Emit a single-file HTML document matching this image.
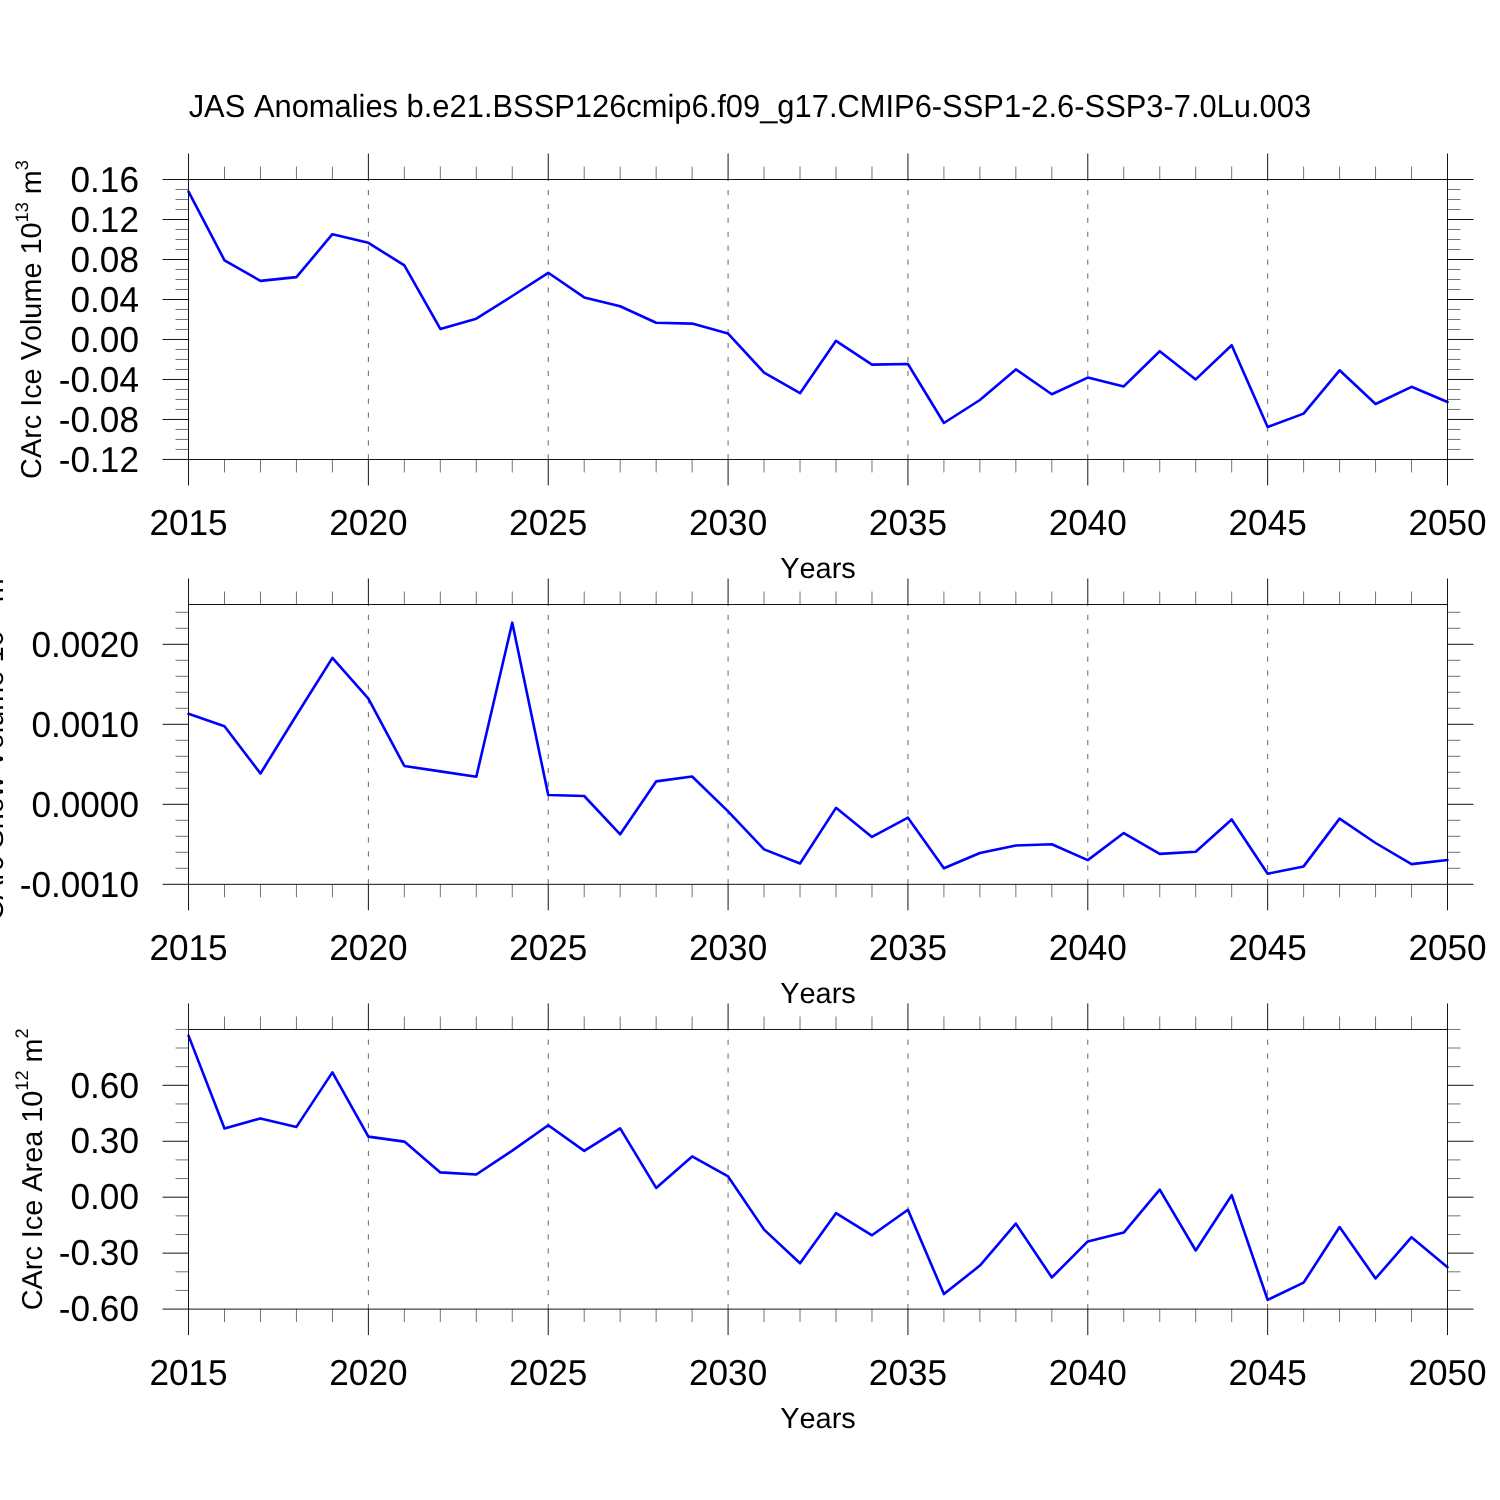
<!DOCTYPE html>
<html lang="en">
<head>
<meta charset="utf-8">
<title>JAS Anomalies</title>
<style>
html,body{margin:0;padding:0;background:#fff;}
body{width:1500px;height:1500px;overflow:hidden;}
svg{display:block;}
svg text{text-rendering:geometricPrecision;font-kerning:none;font-variant-ligatures:none;font-family:'Liberation Sans', Arial, Helvetica, sans-serif;fill:#000;}
</style>
</head>
<body>
<svg width="1500" height="1500" viewBox="0 0 1500 1500">
<rect width="1500" height="1500" fill="#fff"/>
<text transform="translate(749.9 116.7) scale(1 1.035)" text-anchor="middle" font-size="30.88">JAS Anomalies b.e21.BSSP126cmip6.f09_g17.CMIP6-SSP1-2.6-SSP3-7.0Lu.003</text>
<g id="p1"><line x1="368.38" y1="459.45" x2="368.38" y2="179.53" stroke="#000" stroke-width="0.6" stroke-dasharray="5.2 8.71"/>
<line x1="548.24" y1="459.45" x2="548.24" y2="179.53" stroke="#000" stroke-width="0.6" stroke-dasharray="5.2 8.71"/>
<line x1="728.09" y1="459.45" x2="728.09" y2="179.53" stroke="#000" stroke-width="0.6" stroke-dasharray="5.2 8.71"/>
<line x1="907.94" y1="459.45" x2="907.94" y2="179.53" stroke="#000" stroke-width="0.6" stroke-dasharray="5.2 8.71"/>
<line x1="1087.79" y1="459.45" x2="1087.79" y2="179.53" stroke="#000" stroke-width="0.6" stroke-dasharray="5.2 8.71"/>
<line x1="1267.65" y1="459.45" x2="1267.65" y2="179.53" stroke="#000" stroke-width="0.6" stroke-dasharray="5.2 8.71"/>
<polyline points="188.53,191.6 224.5,260.3 260.47,280.9 296.44,277.1 332.41,234.2 368.38,242.8 404.35,265.4 440.32,328.9 476.29,318.7 512.27,296 548.24,272.8 584.21,297.4 620.18,306.2 656.15,322.8 692.12,323.6 728.09,333.6 764.06,372.6 800.03,393.2 836,340.8 871.97,364.6 907.94,364 943.91,423 979.88,400 1015.85,369.4 1051.82,394.2 1087.79,377.6 1123.76,386.4 1159.74,351.2 1195.71,379.4 1231.68,345.2 1267.65,427 1303.62,413.6 1339.59,370.3 1375.56,404 1411.53,386.8 1447.5,402" fill="none" stroke="#0000ff" stroke-width="2.6" stroke-linejoin="round" stroke-linecap="round"/>
<rect x="188.53" y="179.53" width="1258.97" height="279.92" fill="none" stroke="#000" stroke-width="0.92"/>
<path d="M188.53 179.53V153.53M188.53 459.45V485.45" stroke="#000" stroke-width="0.92" fill="none"/>
<path d="M224.5 179.53V166.53M224.5 459.45V472.45" stroke="#000" stroke-width="0.55" fill="none"/>
<path d="M260.47 179.53V166.53M260.47 459.45V472.45" stroke="#000" stroke-width="0.55" fill="none"/>
<path d="M296.44 179.53V166.53M296.44 459.45V472.45" stroke="#000" stroke-width="0.55" fill="none"/>
<path d="M332.41 179.53V166.53M332.41 459.45V472.45" stroke="#000" stroke-width="0.55" fill="none"/>
<path d="M368.38 179.53V153.53M368.38 459.45V485.45" stroke="#000" stroke-width="0.92" fill="none"/>
<path d="M404.35 179.53V166.53M404.35 459.45V472.45" stroke="#000" stroke-width="0.55" fill="none"/>
<path d="M440.32 179.53V166.53M440.32 459.45V472.45" stroke="#000" stroke-width="0.55" fill="none"/>
<path d="M476.29 179.53V166.53M476.29 459.45V472.45" stroke="#000" stroke-width="0.55" fill="none"/>
<path d="M512.27 179.53V166.53M512.27 459.45V472.45" stroke="#000" stroke-width="0.55" fill="none"/>
<path d="M548.24 179.53V153.53M548.24 459.45V485.45" stroke="#000" stroke-width="0.92" fill="none"/>
<path d="M584.21 179.53V166.53M584.21 459.45V472.45" stroke="#000" stroke-width="0.55" fill="none"/>
<path d="M620.18 179.53V166.53M620.18 459.45V472.45" stroke="#000" stroke-width="0.55" fill="none"/>
<path d="M656.15 179.53V166.53M656.15 459.45V472.45" stroke="#000" stroke-width="0.55" fill="none"/>
<path d="M692.12 179.53V166.53M692.12 459.45V472.45" stroke="#000" stroke-width="0.55" fill="none"/>
<path d="M728.09 179.53V153.53M728.09 459.45V485.45" stroke="#000" stroke-width="0.92" fill="none"/>
<path d="M764.06 179.53V166.53M764.06 459.45V472.45" stroke="#000" stroke-width="0.55" fill="none"/>
<path d="M800.03 179.53V166.53M800.03 459.45V472.45" stroke="#000" stroke-width="0.55" fill="none"/>
<path d="M836 179.53V166.53M836 459.45V472.45" stroke="#000" stroke-width="0.55" fill="none"/>
<path d="M871.97 179.53V166.53M871.97 459.45V472.45" stroke="#000" stroke-width="0.55" fill="none"/>
<path d="M907.94 179.53V153.53M907.94 459.45V485.45" stroke="#000" stroke-width="0.92" fill="none"/>
<path d="M943.91 179.53V166.53M943.91 459.45V472.45" stroke="#000" stroke-width="0.55" fill="none"/>
<path d="M979.88 179.53V166.53M979.88 459.45V472.45" stroke="#000" stroke-width="0.55" fill="none"/>
<path d="M1015.85 179.53V166.53M1015.85 459.45V472.45" stroke="#000" stroke-width="0.55" fill="none"/>
<path d="M1051.82 179.53V166.53M1051.82 459.45V472.45" stroke="#000" stroke-width="0.55" fill="none"/>
<path d="M1087.79 179.53V153.53M1087.79 459.45V485.45" stroke="#000" stroke-width="0.92" fill="none"/>
<path d="M1123.76 179.53V166.53M1123.76 459.45V472.45" stroke="#000" stroke-width="0.55" fill="none"/>
<path d="M1159.74 179.53V166.53M1159.74 459.45V472.45" stroke="#000" stroke-width="0.55" fill="none"/>
<path d="M1195.71 179.53V166.53M1195.71 459.45V472.45" stroke="#000" stroke-width="0.55" fill="none"/>
<path d="M1231.68 179.53V166.53M1231.68 459.45V472.45" stroke="#000" stroke-width="0.55" fill="none"/>
<path d="M1267.65 179.53V153.53M1267.65 459.45V485.45" stroke="#000" stroke-width="0.92" fill="none"/>
<path d="M1303.62 179.53V166.53M1303.62 459.45V472.45" stroke="#000" stroke-width="0.55" fill="none"/>
<path d="M1339.59 179.53V166.53M1339.59 459.45V472.45" stroke="#000" stroke-width="0.55" fill="none"/>
<path d="M1375.56 179.53V166.53M1375.56 459.45V472.45" stroke="#000" stroke-width="0.55" fill="none"/>
<path d="M1411.53 179.53V166.53M1411.53 459.45V472.45" stroke="#000" stroke-width="0.55" fill="none"/>
<path d="M1447.5 179.53V153.53M1447.5 459.45V485.45" stroke="#000" stroke-width="0.92" fill="none"/>
<path d="M188.53 179.53H162.53M1447.5 179.53H1473.5M188.53 219.52H162.53M1447.5 219.52H1473.5M188.53 259.51H162.53M1447.5 259.51H1473.5M188.53 299.5H162.53M1447.5 299.5H1473.5M188.53 339.48H162.53M1447.5 339.48H1473.5M188.53 379.47H162.53M1447.5 379.47H1473.5M188.53 419.46H162.53M1447.5 419.46H1473.5M188.53 459.45H162.53M1447.5 459.45H1473.5" stroke="#000" stroke-width="0.92" fill="none"/>
<path d="M188.53 189.53H175.53M1447.5 189.53H1460.5M188.53 199.52H175.53M1447.5 199.52H1460.5M188.53 209.52H175.53M1447.5 209.52H1460.5M188.53 229.52H175.53M1447.5 229.52H1460.5M188.53 239.51H175.53M1447.5 239.51H1460.5M188.53 249.51H175.53M1447.5 249.51H1460.5M188.53 269.5H175.53M1447.5 269.5H1460.5M188.53 279.5H175.53M1447.5 279.5H1460.5M188.53 289.5H175.53M1447.5 289.5H1460.5M188.53 309.49H175.53M1447.5 309.49H1460.5M188.53 319.49H175.53M1447.5 319.49H1460.5M188.53 329.49H175.53M1447.5 329.49H1460.5M188.53 349.48H175.53M1447.5 349.48H1460.5M188.53 359.48H175.53M1447.5 359.48H1460.5M188.53 369.48H175.53M1447.5 369.48H1460.5M188.53 389.47H175.53M1447.5 389.47H1460.5M188.53 399.47H175.53M1447.5 399.47H1460.5M188.53 409.46H175.53M1447.5 409.46H1460.5M188.53 429.46H175.53M1447.5 429.46H1460.5M188.53 439.46H175.53M1447.5 439.46H1460.5M188.53 449.45H175.53M1447.5 449.45H1460.5" stroke="#000" stroke-width="0.55" fill="none"/>
<text transform="translate(139.0 191.73) scale(0.975 1)" text-anchor="end" font-size="36.1">0.16</text>
<text transform="translate(139.0 231.72) scale(0.975 1)" text-anchor="end" font-size="36.1">0.12</text>
<text transform="translate(139.0 271.71) scale(0.975 1)" text-anchor="end" font-size="36.1">0.08</text>
<text transform="translate(139.0 311.7) scale(0.975 1)" text-anchor="end" font-size="36.1">0.04</text>
<text transform="translate(139.0 351.68) scale(0.975 1)" text-anchor="end" font-size="36.1">0.00</text>
<text transform="translate(139.0 391.67) scale(0.975 1)" text-anchor="end" font-size="36.1">-0.04</text>
<text transform="translate(139.0 431.66) scale(0.975 1)" text-anchor="end" font-size="36.1">-0.08</text>
<text transform="translate(139.0 471.65) scale(0.975 1)" text-anchor="end" font-size="36.1">-0.12</text>
<text transform="translate(188.53 535.45) scale(0.975 1)" text-anchor="middle" font-size="36.1">2015</text>
<text transform="translate(368.38 535.45) scale(0.975 1)" text-anchor="middle" font-size="36.1">2020</text>
<text transform="translate(548.24 535.45) scale(0.975 1)" text-anchor="middle" font-size="36.1">2025</text>
<text transform="translate(728.09 535.45) scale(0.975 1)" text-anchor="middle" font-size="36.1">2030</text>
<text transform="translate(907.94 535.45) scale(0.975 1)" text-anchor="middle" font-size="36.1">2035</text>
<text transform="translate(1087.79 535.45) scale(0.975 1)" text-anchor="middle" font-size="36.1">2040</text>
<text transform="translate(1267.65 535.45) scale(0.975 1)" text-anchor="middle" font-size="36.1">2045</text>
<text transform="translate(1447.5 535.45) scale(0.975 1)" text-anchor="middle" font-size="36.1">2050</text>
<text x="818.01" y="578.05" text-anchor="middle" font-size="28.95">Years</text></g>
<text transform="translate(41.4 319.49) rotate(-90)" text-anchor="middle" font-size="28.85"><tspan>CArc Ice Volume 10</tspan><tspan font-size="18.2" dy="-13.9">13</tspan><tspan dy="13.9"> m</tspan><tspan font-size="18.2" dy="-13.9">3</tspan></text>
<g id="p2"><line x1="368.38" y1="884.3" x2="368.38" y2="604.5" stroke="#000" stroke-width="0.6" stroke-dasharray="5.2 8.71"/>
<line x1="548.24" y1="884.3" x2="548.24" y2="604.5" stroke="#000" stroke-width="0.6" stroke-dasharray="5.2 8.71"/>
<line x1="728.09" y1="884.3" x2="728.09" y2="604.5" stroke="#000" stroke-width="0.6" stroke-dasharray="5.2 8.71"/>
<line x1="907.94" y1="884.3" x2="907.94" y2="604.5" stroke="#000" stroke-width="0.6" stroke-dasharray="5.2 8.71"/>
<line x1="1087.79" y1="884.3" x2="1087.79" y2="604.5" stroke="#000" stroke-width="0.6" stroke-dasharray="5.2 8.71"/>
<line x1="1267.65" y1="884.3" x2="1267.65" y2="604.5" stroke="#000" stroke-width="0.6" stroke-dasharray="5.2 8.71"/>
<polyline points="188.53,713.8 224.5,726.2 260.47,773.5 296.44,715.3 332.41,657.85 368.38,698.6 404.35,766 440.32,771.4 476.29,776.8 512.27,622.65 548.24,795 584.21,796 620.18,834.3 656.15,781.4 692.12,776.45 728.09,811.4 764.06,849.4 800.03,863.5 836,807.85 871.97,836.9 907.94,817.65 943.91,868.3 979.88,853 1015.85,845.5 1051.82,844.25 1087.79,860.1 1123.76,833.05 1159.74,853.9 1195.71,851.8 1231.68,819.45 1267.65,873.7 1303.62,866.4 1339.59,818.65 1375.56,843 1411.53,864.1 1447.5,860" fill="none" stroke="#0000ff" stroke-width="2.6" stroke-linejoin="round" stroke-linecap="round"/>
<rect x="188.53" y="604.5" width="1258.97" height="279.8" fill="none" stroke="#000" stroke-width="0.92"/>
<path d="M188.53 604.5V578.5M188.53 884.3V910.3" stroke="#000" stroke-width="0.92" fill="none"/>
<path d="M224.5 604.5V591.5M224.5 884.3V897.3" stroke="#000" stroke-width="0.55" fill="none"/>
<path d="M260.47 604.5V591.5M260.47 884.3V897.3" stroke="#000" stroke-width="0.55" fill="none"/>
<path d="M296.44 604.5V591.5M296.44 884.3V897.3" stroke="#000" stroke-width="0.55" fill="none"/>
<path d="M332.41 604.5V591.5M332.41 884.3V897.3" stroke="#000" stroke-width="0.55" fill="none"/>
<path d="M368.38 604.5V578.5M368.38 884.3V910.3" stroke="#000" stroke-width="0.92" fill="none"/>
<path d="M404.35 604.5V591.5M404.35 884.3V897.3" stroke="#000" stroke-width="0.55" fill="none"/>
<path d="M440.32 604.5V591.5M440.32 884.3V897.3" stroke="#000" stroke-width="0.55" fill="none"/>
<path d="M476.29 604.5V591.5M476.29 884.3V897.3" stroke="#000" stroke-width="0.55" fill="none"/>
<path d="M512.27 604.5V591.5M512.27 884.3V897.3" stroke="#000" stroke-width="0.55" fill="none"/>
<path d="M548.24 604.5V578.5M548.24 884.3V910.3" stroke="#000" stroke-width="0.92" fill="none"/>
<path d="M584.21 604.5V591.5M584.21 884.3V897.3" stroke="#000" stroke-width="0.55" fill="none"/>
<path d="M620.18 604.5V591.5M620.18 884.3V897.3" stroke="#000" stroke-width="0.55" fill="none"/>
<path d="M656.15 604.5V591.5M656.15 884.3V897.3" stroke="#000" stroke-width="0.55" fill="none"/>
<path d="M692.12 604.5V591.5M692.12 884.3V897.3" stroke="#000" stroke-width="0.55" fill="none"/>
<path d="M728.09 604.5V578.5M728.09 884.3V910.3" stroke="#000" stroke-width="0.92" fill="none"/>
<path d="M764.06 604.5V591.5M764.06 884.3V897.3" stroke="#000" stroke-width="0.55" fill="none"/>
<path d="M800.03 604.5V591.5M800.03 884.3V897.3" stroke="#000" stroke-width="0.55" fill="none"/>
<path d="M836 604.5V591.5M836 884.3V897.3" stroke="#000" stroke-width="0.55" fill="none"/>
<path d="M871.97 604.5V591.5M871.97 884.3V897.3" stroke="#000" stroke-width="0.55" fill="none"/>
<path d="M907.94 604.5V578.5M907.94 884.3V910.3" stroke="#000" stroke-width="0.92" fill="none"/>
<path d="M943.91 604.5V591.5M943.91 884.3V897.3" stroke="#000" stroke-width="0.55" fill="none"/>
<path d="M979.88 604.5V591.5M979.88 884.3V897.3" stroke="#000" stroke-width="0.55" fill="none"/>
<path d="M1015.85 604.5V591.5M1015.85 884.3V897.3" stroke="#000" stroke-width="0.55" fill="none"/>
<path d="M1051.82 604.5V591.5M1051.82 884.3V897.3" stroke="#000" stroke-width="0.55" fill="none"/>
<path d="M1087.79 604.5V578.5M1087.79 884.3V910.3" stroke="#000" stroke-width="0.92" fill="none"/>
<path d="M1123.76 604.5V591.5M1123.76 884.3V897.3" stroke="#000" stroke-width="0.55" fill="none"/>
<path d="M1159.74 604.5V591.5M1159.74 884.3V897.3" stroke="#000" stroke-width="0.55" fill="none"/>
<path d="M1195.71 604.5V591.5M1195.71 884.3V897.3" stroke="#000" stroke-width="0.55" fill="none"/>
<path d="M1231.68 604.5V591.5M1231.68 884.3V897.3" stroke="#000" stroke-width="0.55" fill="none"/>
<path d="M1267.65 604.5V578.5M1267.65 884.3V910.3" stroke="#000" stroke-width="0.92" fill="none"/>
<path d="M1303.62 604.5V591.5M1303.62 884.3V897.3" stroke="#000" stroke-width="0.55" fill="none"/>
<path d="M1339.59 604.5V591.5M1339.59 884.3V897.3" stroke="#000" stroke-width="0.55" fill="none"/>
<path d="M1375.56 604.5V591.5M1375.56 884.3V897.3" stroke="#000" stroke-width="0.55" fill="none"/>
<path d="M1411.53 604.5V591.5M1411.53 884.3V897.3" stroke="#000" stroke-width="0.55" fill="none"/>
<path d="M1447.5 604.5V578.5M1447.5 884.3V910.3" stroke="#000" stroke-width="0.92" fill="none"/>
<path d="M188.53 884.3H162.53M1447.5 884.3H1473.5M188.53 804.3H162.53M1447.5 804.3H1473.5M188.53 724.3H162.53M1447.5 724.3H1473.5M188.53 644.3H162.53M1447.5 644.3H1473.5" stroke="#000" stroke-width="0.92" fill="none"/>
<path d="M188.53 868.3H175.53M1447.5 868.3H1460.5M188.53 852.3H175.53M1447.5 852.3H1460.5M188.53 836.3H175.53M1447.5 836.3H1460.5M188.53 820.3H175.53M1447.5 820.3H1460.5M188.53 788.3H175.53M1447.5 788.3H1460.5M188.53 772.3H175.53M1447.5 772.3H1460.5M188.53 756.3H175.53M1447.5 756.3H1460.5M188.53 740.3H175.53M1447.5 740.3H1460.5M188.53 708.3H175.53M1447.5 708.3H1460.5M188.53 692.3H175.53M1447.5 692.3H1460.5M188.53 676.3H175.53M1447.5 676.3H1460.5M188.53 660.3H175.53M1447.5 660.3H1460.5M188.53 628.3H175.53M1447.5 628.3H1460.5M188.53 612.3H175.53M1447.5 612.3H1460.5" stroke="#000" stroke-width="0.55" fill="none"/>
<text transform="translate(139.0 896.5) scale(0.975 1)" text-anchor="end" font-size="36.1">-0.0010</text>
<text transform="translate(139.0 816.5) scale(0.975 1)" text-anchor="end" font-size="36.1">0.0000</text>
<text transform="translate(139.0 736.5) scale(0.975 1)" text-anchor="end" font-size="36.1">0.0010</text>
<text transform="translate(139.0 656.5) scale(0.975 1)" text-anchor="end" font-size="36.1">0.0020</text>
<text transform="translate(188.53 960.3) scale(0.975 1)" text-anchor="middle" font-size="36.1">2015</text>
<text transform="translate(368.38 960.3) scale(0.975 1)" text-anchor="middle" font-size="36.1">2020</text>
<text transform="translate(548.24 960.3) scale(0.975 1)" text-anchor="middle" font-size="36.1">2025</text>
<text transform="translate(728.09 960.3) scale(0.975 1)" text-anchor="middle" font-size="36.1">2030</text>
<text transform="translate(907.94 960.3) scale(0.975 1)" text-anchor="middle" font-size="36.1">2035</text>
<text transform="translate(1087.79 960.3) scale(0.975 1)" text-anchor="middle" font-size="36.1">2040</text>
<text transform="translate(1267.65 960.3) scale(0.975 1)" text-anchor="middle" font-size="36.1">2045</text>
<text transform="translate(1447.5 960.3) scale(0.975 1)" text-anchor="middle" font-size="36.1">2050</text>
<text x="818.01" y="1002.9" text-anchor="middle" font-size="28.95">Years</text></g>
<text transform="translate(2.9 744.4) rotate(-90)" text-anchor="middle" font-size="28.85"><tspan>CArc Snow Volume 10</tspan><tspan font-size="18.2" dy="-13.9">13</tspan><tspan dy="13.9"> m</tspan><tspan font-size="18.2" dy="-13.9">3</tspan></text>
<g id="p3"><line x1="368.38" y1="1309.1" x2="368.38" y2="1029.45" stroke="#000" stroke-width="0.6" stroke-dasharray="5.2 8.71"/>
<line x1="548.24" y1="1309.1" x2="548.24" y2="1029.45" stroke="#000" stroke-width="0.6" stroke-dasharray="5.2 8.71"/>
<line x1="728.09" y1="1309.1" x2="728.09" y2="1029.45" stroke="#000" stroke-width="0.6" stroke-dasharray="5.2 8.71"/>
<line x1="907.94" y1="1309.1" x2="907.94" y2="1029.45" stroke="#000" stroke-width="0.6" stroke-dasharray="5.2 8.71"/>
<line x1="1087.79" y1="1309.1" x2="1087.79" y2="1029.45" stroke="#000" stroke-width="0.6" stroke-dasharray="5.2 8.71"/>
<line x1="1267.65" y1="1309.1" x2="1267.65" y2="1029.45" stroke="#000" stroke-width="0.6" stroke-dasharray="5.2 8.71"/>
<polyline points="188.53,1035.6 224.5,1128.5 260.47,1118.4 296.44,1126.9 332.41,1072.4 368.38,1136.6 404.35,1141.6 440.32,1172.4 476.29,1174.5 512.27,1150.6 548.24,1125.2 584.21,1150.9 620.18,1128.4 656.15,1187.9 692.12,1156.4 728.09,1176.4 764.06,1229.6 800.03,1263.3 836,1213.2 871.97,1235.3 907.94,1209.8 943.91,1294.1 979.88,1265.6 1015.85,1223.6 1051.82,1277.5 1087.79,1241.4 1123.76,1232.6 1159.74,1189.6 1195.71,1250.5 1231.68,1195.2 1267.65,1299.9 1303.62,1282.6 1339.59,1227 1375.56,1278.5 1411.53,1237.2 1447.5,1267.2" fill="none" stroke="#0000ff" stroke-width="2.6" stroke-linejoin="round" stroke-linecap="round"/>
<rect x="188.53" y="1029.45" width="1258.97" height="279.65" fill="none" stroke="#000" stroke-width="0.92"/>
<path d="M188.53 1029.45V1003.45M188.53 1309.1V1335.1" stroke="#000" stroke-width="0.92" fill="none"/>
<path d="M224.5 1029.45V1016.45M224.5 1309.1V1322.1" stroke="#000" stroke-width="0.55" fill="none"/>
<path d="M260.47 1029.45V1016.45M260.47 1309.1V1322.1" stroke="#000" stroke-width="0.55" fill="none"/>
<path d="M296.44 1029.45V1016.45M296.44 1309.1V1322.1" stroke="#000" stroke-width="0.55" fill="none"/>
<path d="M332.41 1029.45V1016.45M332.41 1309.1V1322.1" stroke="#000" stroke-width="0.55" fill="none"/>
<path d="M368.38 1029.45V1003.45M368.38 1309.1V1335.1" stroke="#000" stroke-width="0.92" fill="none"/>
<path d="M404.35 1029.45V1016.45M404.35 1309.1V1322.1" stroke="#000" stroke-width="0.55" fill="none"/>
<path d="M440.32 1029.45V1016.45M440.32 1309.1V1322.1" stroke="#000" stroke-width="0.55" fill="none"/>
<path d="M476.29 1029.45V1016.45M476.29 1309.1V1322.1" stroke="#000" stroke-width="0.55" fill="none"/>
<path d="M512.27 1029.45V1016.45M512.27 1309.1V1322.1" stroke="#000" stroke-width="0.55" fill="none"/>
<path d="M548.24 1029.45V1003.45M548.24 1309.1V1335.1" stroke="#000" stroke-width="0.92" fill="none"/>
<path d="M584.21 1029.45V1016.45M584.21 1309.1V1322.1" stroke="#000" stroke-width="0.55" fill="none"/>
<path d="M620.18 1029.45V1016.45M620.18 1309.1V1322.1" stroke="#000" stroke-width="0.55" fill="none"/>
<path d="M656.15 1029.45V1016.45M656.15 1309.1V1322.1" stroke="#000" stroke-width="0.55" fill="none"/>
<path d="M692.12 1029.45V1016.45M692.12 1309.1V1322.1" stroke="#000" stroke-width="0.55" fill="none"/>
<path d="M728.09 1029.45V1003.45M728.09 1309.1V1335.1" stroke="#000" stroke-width="0.92" fill="none"/>
<path d="M764.06 1029.45V1016.45M764.06 1309.1V1322.1" stroke="#000" stroke-width="0.55" fill="none"/>
<path d="M800.03 1029.45V1016.45M800.03 1309.1V1322.1" stroke="#000" stroke-width="0.55" fill="none"/>
<path d="M836 1029.45V1016.45M836 1309.1V1322.1" stroke="#000" stroke-width="0.55" fill="none"/>
<path d="M871.97 1029.45V1016.45M871.97 1309.1V1322.1" stroke="#000" stroke-width="0.55" fill="none"/>
<path d="M907.94 1029.45V1003.45M907.94 1309.1V1335.1" stroke="#000" stroke-width="0.92" fill="none"/>
<path d="M943.91 1029.45V1016.45M943.91 1309.1V1322.1" stroke="#000" stroke-width="0.55" fill="none"/>
<path d="M979.88 1029.45V1016.45M979.88 1309.1V1322.1" stroke="#000" stroke-width="0.55" fill="none"/>
<path d="M1015.85 1029.45V1016.45M1015.85 1309.1V1322.1" stroke="#000" stroke-width="0.55" fill="none"/>
<path d="M1051.82 1029.45V1016.45M1051.82 1309.1V1322.1" stroke="#000" stroke-width="0.55" fill="none"/>
<path d="M1087.79 1029.45V1003.45M1087.79 1309.1V1335.1" stroke="#000" stroke-width="0.92" fill="none"/>
<path d="M1123.76 1029.45V1016.45M1123.76 1309.1V1322.1" stroke="#000" stroke-width="0.55" fill="none"/>
<path d="M1159.74 1029.45V1016.45M1159.74 1309.1V1322.1" stroke="#000" stroke-width="0.55" fill="none"/>
<path d="M1195.71 1029.45V1016.45M1195.71 1309.1V1322.1" stroke="#000" stroke-width="0.55" fill="none"/>
<path d="M1231.68 1029.45V1016.45M1231.68 1309.1V1322.1" stroke="#000" stroke-width="0.55" fill="none"/>
<path d="M1267.65 1029.45V1003.45M1267.65 1309.1V1335.1" stroke="#000" stroke-width="0.92" fill="none"/>
<path d="M1303.62 1029.45V1016.45M1303.62 1309.1V1322.1" stroke="#000" stroke-width="0.55" fill="none"/>
<path d="M1339.59 1029.45V1016.45M1339.59 1309.1V1322.1" stroke="#000" stroke-width="0.55" fill="none"/>
<path d="M1375.56 1029.45V1016.45M1375.56 1309.1V1322.1" stroke="#000" stroke-width="0.55" fill="none"/>
<path d="M1411.53 1029.45V1016.45M1411.53 1309.1V1322.1" stroke="#000" stroke-width="0.55" fill="none"/>
<path d="M1447.5 1029.45V1003.45M1447.5 1309.1V1335.1" stroke="#000" stroke-width="0.92" fill="none"/>
<path d="M188.53 1309.1H162.53M1447.5 1309.1H1473.5M188.53 1253.15H162.53M1447.5 1253.15H1473.5M188.53 1197.2H162.53M1447.5 1197.2H1473.5M188.53 1141.25H162.53M1447.5 1141.25H1473.5M188.53 1085.3H162.53M1447.5 1085.3H1473.5" stroke="#000" stroke-width="0.92" fill="none"/>
<path d="M188.53 1290.45H175.53M1447.5 1290.45H1460.5M188.53 1271.8H175.53M1447.5 1271.8H1460.5M188.53 1234.5H175.53M1447.5 1234.5H1460.5M188.53 1215.85H175.53M1447.5 1215.85H1460.5M188.53 1178.55H175.53M1447.5 1178.55H1460.5M188.53 1159.9H175.53M1447.5 1159.9H1460.5M188.53 1122.6H175.53M1447.5 1122.6H1460.5M188.53 1103.95H175.53M1447.5 1103.95H1460.5M188.53 1066.65H175.53M1447.5 1066.65H1460.5M188.53 1048H175.53M1447.5 1048H1460.5M188.53 1029.45H175.53M1447.5 1029.45H1460.5" stroke="#000" stroke-width="0.55" fill="none"/>
<text transform="translate(139.0 1321.3) scale(0.975 1)" text-anchor="end" font-size="36.1">-0.60</text>
<text transform="translate(139.0 1265.35) scale(0.975 1)" text-anchor="end" font-size="36.1">-0.30</text>
<text transform="translate(139.0 1209.4) scale(0.975 1)" text-anchor="end" font-size="36.1">0.00</text>
<text transform="translate(139.0 1153.45) scale(0.975 1)" text-anchor="end" font-size="36.1">0.30</text>
<text transform="translate(139.0 1097.5) scale(0.975 1)" text-anchor="end" font-size="36.1">0.60</text>
<text transform="translate(188.53 1385.1) scale(0.975 1)" text-anchor="middle" font-size="36.1">2015</text>
<text transform="translate(368.38 1385.1) scale(0.975 1)" text-anchor="middle" font-size="36.1">2020</text>
<text transform="translate(548.24 1385.1) scale(0.975 1)" text-anchor="middle" font-size="36.1">2025</text>
<text transform="translate(728.09 1385.1) scale(0.975 1)" text-anchor="middle" font-size="36.1">2030</text>
<text transform="translate(907.94 1385.1) scale(0.975 1)" text-anchor="middle" font-size="36.1">2035</text>
<text transform="translate(1087.79 1385.1) scale(0.975 1)" text-anchor="middle" font-size="36.1">2040</text>
<text transform="translate(1267.65 1385.1) scale(0.975 1)" text-anchor="middle" font-size="36.1">2045</text>
<text transform="translate(1447.5 1385.1) scale(0.975 1)" text-anchor="middle" font-size="36.1">2050</text>
<text x="818.01" y="1427.7" text-anchor="middle" font-size="28.95">Years</text></g>
<text transform="translate(42 1169.28) rotate(-90)" text-anchor="middle" font-size="28.85"><tspan>CArc Ice Area 10</tspan><tspan font-size="18.2" dy="-13.9">12</tspan><tspan dy="13.9"> m</tspan><tspan font-size="18.2" dy="-13.9">2</tspan></text>
</svg>
</body>
</html>
